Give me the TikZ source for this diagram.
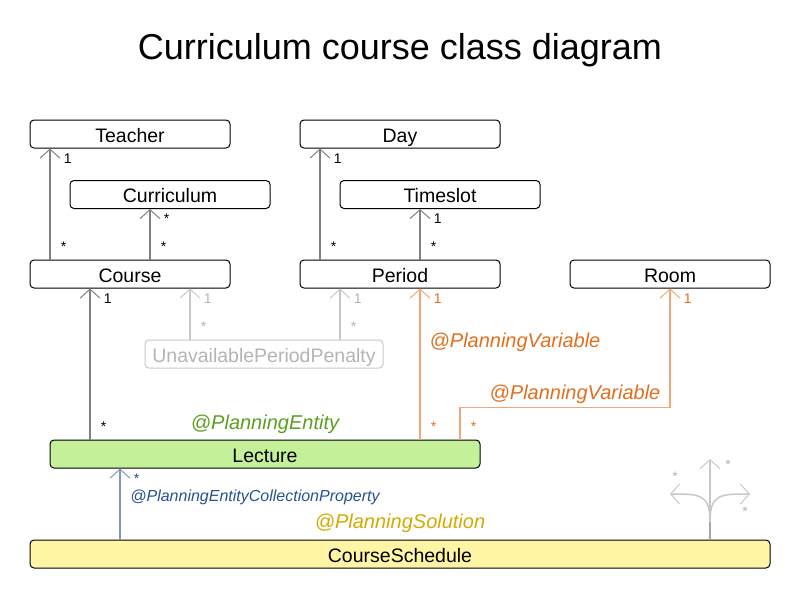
\documentclass[tikz,border=0pt]{standalone}
\usepackage{fontspec}
\setmainfont{Liberation Sans}
\usetikzlibrary{arrows.meta,positioning}

\definecolor{linegray}{RGB}{128,128,128}
\definecolor{palegray}{RGB}{200,200,200}
\definecolor{palertext}{RGB}{180,180,180}
\definecolor{varline}{RGB}{240,168,120}
\definecolor{vartext}{RGB}{226,110,30}
\definecolor{entitytext}{RGB}{90,160,30}
\definecolor{collline}{RGB}{130,150,190}
\definecolor{colltext}{RGB}{40,80,150}
\definecolor{solutiontext}{RGB}{210,170,0}
\definecolor{entityfill}{RGB}{197,240,154}
\definecolor{solutionfill}{RGB}{255,245,165}

\begin{document}
\begin{tikzpicture}[x=1pt,y=-1pt,
  class/.style={draw, line width=1pt, rounded corners=4pt, minimum width=200pt, minimum height=28pt, inner sep=0pt, text height=16pt, text depth=0pt, font=\fontsize{19.5}{21}\selectfont},
  assoc/.style={draw=linegray, line width=1.5pt, -{Straight Barb[length=9pt,width=20pt,line width=1pt]}},
  mult/.style={font=\fontsize{14}{14}\selectfont, inner sep=0pt},
  headlabel/.style={mult, anchor=west, xshift=13pt, yshift=-10pt},
  taillabel/.style={mult, anchor=west, xshift=10pt, yshift=13pt},
  note/.style={font=\fontsize{20}{22}\selectfont\itshape, inner sep=0pt}
]
\useasboundingbox (0,0) rectangle (800,600);

\node[font=\fontsize{36}{40}\selectfont] (title) at (400,50) {Curriculum course class diagram};

% classes
\node[class] (teacher) at (130,134) {Teacher};
\node[class] (curriculum) at (170,194.5) {Curriculum};
\node[class] (course) at (130,274) {Course};
\node[class] (day) at (400,134) {Day};
\node[class] (timeslot) at (440,194.5) {Timeslot};
\node[class] (period) at (400,274) {Period};
\node[class] (room) at (670,274) {Room};
\node[class, minimum width=238pt, draw=palegray, text=palertext] (penalty) at (264,354) {UnavailablePeriodPenalty};
\node[class, minimum width=430pt, fill=entityfill] (lecture) at (265,454) {Lecture};
\node[class, minimum width=740pt, fill=solutionfill] (schedule) at (400,554) {CourseSchedule};

% course and period
\draw[assoc] ([xshift=-80pt]course.north) node[taillabel]{*} -- ([xshift=-80pt]teacher.south) node[headlabel]{1};
\draw[assoc] ([xshift=20pt]course.north) node[taillabel]{*} -- ([xshift=-20pt]curriculum.south) node[headlabel]{*};
\draw[assoc] ([xshift=-80pt]period.north) node[taillabel]{*} -- ([xshift=-80pt]day.south) node[headlabel]{1};
\draw[assoc] ([xshift=20pt]period.north) node[taillabel]{*} -- ([xshift=-20pt]timeslot.south) node[headlabel]{1};

% penalty
\draw[assoc, draw=palegray, every node/.append style={text=palertext}] ([xshift=-74pt]penalty.north) node[taillabel]{*} -- ([xshift=60pt]course.south) node[headlabel]{1};
\draw[assoc, draw=palegray, every node/.append style={text=palertext}] ([xshift=76pt]penalty.north) node[taillabel]{*} -- ([xshift=-60pt]period.south) node[headlabel]{1};

% lecture
\draw[assoc] ([xshift=-175pt]lecture.north) node[taillabel]{*} -- ([xshift=-40pt]course.south) node[headlabel]{1};
\draw[assoc, draw=varline, every node/.append style={text=vartext}] ([xshift=155pt]lecture.north) node[taillabel]{*} -- ([xshift=20pt]period.south) node[headlabel]{1};
\draw[assoc, draw=varline, every node/.append style={text=vartext}] ([xshift=195pt]lecture.north) node[taillabel]{*} -- ++(0,-32) -| (room.south) node[headlabel]{1};
\node[note, text=vartext] (var1) at (515,342) {@PlanningVariable};
\node[note, text=vartext] (var2) at (575,394) {@PlanningVariable};
\node[note, text=entitytext] (entity) at (265,424) {@PlanningEntity};

% schedule
\draw[assoc, draw=collline, every node/.append style={text=colltext}] ([xshift=-280pt]schedule.north) -- ([xshift=-145pt]lecture.south) node[headlabel]{*};
\node[note, text=colltext, font=\fontsize{16}{18}\selectfont\itshape] (coll) at (255,497) {@PlanningEntityCollectionProperty};
\node[note, text=solutiontext] (solution) at (400,523) {@PlanningSolution};

% problem facts
\coordinate (fan) at ([xshift=310pt]schedule.north);
\draw[draw=linegray!70, line width=1.5pt] (fan) -- (710,515);
\draw[palegray, line width=1.5pt, -{Straight Barb[length=9pt,width=20pt,line width=1pt]}] (710,520) -- (710,459);
\draw[palegray, line width=1.5pt, -{Straight Barb[length=9pt,width=20pt,line width=1pt]}] (710,522) .. controls (710,494) and (700,494) .. (670,494);
\draw[palegray, line width=1.5pt, -{Straight Barb[length=9pt,width=20pt,line width=1pt]}] (710,522) .. controls (710,494) and (720,494) .. (750,494);
\node[mult, text=palertext] at (675,477) {*};
\node[mult, text=palertext] at (728,465) {*};
\node[mult, text=palertext] at (745,512) {*};

\end{tikzpicture}
\end{document}
